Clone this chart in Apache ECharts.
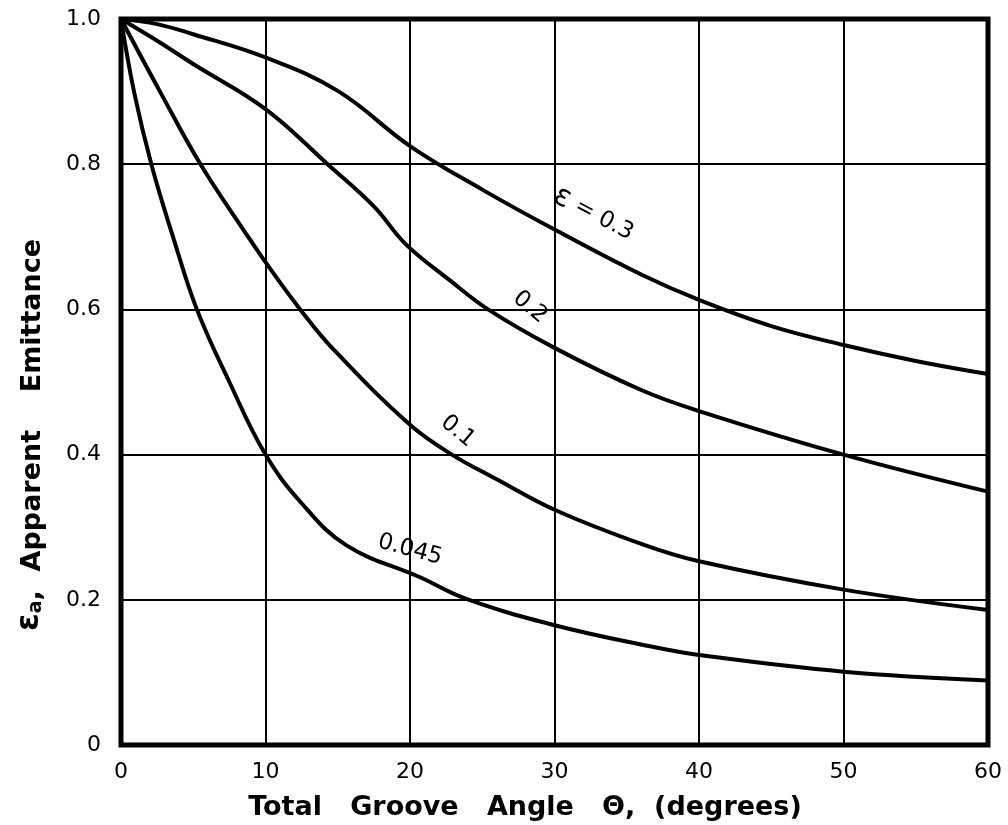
<!DOCTYPE html>
<html>
<head>
<meta charset="utf-8">
<script src="https://cdn.jsdelivr.net/npm/echarts@6/dist/echarts.min.js"></script>
<style>
html,body{margin:0;padding:0;background:#fff;}
#chart{width:1008px;height:825px;}
</style>
</head>
<body>
<div id="chart"></div>
<script>
// Data
const xTicks = [0, 10, 20, 30, 40, 50, 60];
const yTicks = [0, 0.2, 0.4, 0.6, 0.8, 1.0];

const theta03 = [0, 2.5, 5, 10, 15, 20, 25, 30, 36, 40, 45, 50, 55, 60];
const eps03   = [1, 0.993, 0.979, 0.947, 0.901, 0.825, 0.765, 0.71, 0.648, 0.613, 0.577, 0.551, 0.529, 0.511];

const theta02 = [0, 2.5, 5, 10, 14.3, 17.5, 19.7, 22.7, 25.4, 30, 36, 40, 50, 60];
const eps02   = [1, 0.97, 0.938, 0.876, 0.8, 0.742, 0.69, 0.641, 0.6, 0.547, 0.489, 0.46, 0.40, 0.349];

const theta01 = [0, 2.7, 5.5, 8.8, 10, 12.4, 14.7, 20, 22.9, 26, 30, 36, 40, 50, 60];
const eps01   = [1, 0.9, 0.8, 0.7, 0.665, 0.6, 0.545, 0.441, 0.4, 0.366, 0.324, 0.277, 0.253, 0.214, 0.186];

const theta0045 = [0, 0.9, 2.1, 3.6, 5.25, 7.5, 10, 12.5, 15.6, 20.7, 23.8, 30, 36.6, 40, 50, 60];
const eps0045   = [1, 0.9, 0.8, 0.7, 0.6, 0.5, 0.4, 0.333, 0.275, 0.231, 0.202, 0.165, 0.136, 0.124, 0.101, 0.089];

const curveLabels = ['{g|ε} = 0.3', '0.2', '0.1', '0.045'];
const labelAt = [[32.7, 0.731], [28.3, 0.603], [23.3, 0.432], [20.0, 0.269]];
const labelRot = [-28, -40, -40, -15];

const xTitle = 'Total   Groove   Angle   Θ,  (degrees)';
const yTitleRich = '{e|ε}{s|a}{n|,  Apparent    Emittance}';

function zip(xs, ys){ return xs.map((x,i)=>[x, ys[i]]); }

const chart = echarts.init(document.getElementById('chart'), null, {renderer:'canvas'});
const font = 'DejaVu Sans';
const seriesData = [zip(theta03, eps03), zip(theta02, eps02), zip(theta01, eps01), zip(theta0045, eps0045)];

const series = seriesData.map((d, i) => ({
  type: 'line',
  data: d,
  smooth: 0.4,
  showSymbol: false,
  symbol: 'none',
  lineStyle: {color: '#000', width: 4},
  z: 5,
  markPoint: {
    symbol: 'circle',
    symbolSize: 0,
    silent: true,
    data: [{coord: labelAt[i], value: curveLabels[i]}],
    label: {
      show: true,
      formatter: curveLabels[i],
      rotate: labelRot[i],
      color: '#000',
      fontFamily: font,
      fontSize: 23,
      position: 'inside',
      rich: {g: {fontFamily: font, fontSize: 30, color: '#000'}}
    }
  }
}));

chart.setOption({
  animation: false,
  backgroundColor: '#fff',
  grid: {left: 121, right: 20, top: 19, bottom: 80, show: true, borderColor: '#000', borderWidth: 5, backgroundColor: 'transparent'},
  xAxis: {
    type: 'value', min: 0, max: 60, interval: 10,
    axisLine: {show: false},
    axisTick: {show: false},
    axisLabel: {color: '#000', fontFamily: font, fontSize: 22, margin: 16,
      formatter: v => xTicks.includes(v) ? String(v) : ''},
    splitLine: {show: true, lineStyle: {color: '#000', width: 2}}
  },
  yAxis: {
    type: 'value', min: 0, max: 1, interval: 0.2,
    axisLine: {show: false},
    axisTick: {show: false},
    axisLabel: {color: '#000', fontFamily: font, fontSize: 22, margin: 20,
      formatter: v => { const t = yTicks.find(y => Math.abs(y - v) < 1e-9); return t === undefined ? '' : (t === 0 ? '0' : t.toFixed(1)); }},
    splitLine: {show: true, lineStyle: {color: '#000', width: 2}}
  },
  graphic: [
    {
      type: 'text', x: 525, y: 808,
      style: {text: xTitle, font: 'bold 27px "DejaVu Sans"', fill: '#000', align: 'center', verticalAlign: 'middle'}
    },
    {
      type: 'text', x: 30, y: 435, rotation: Math.PI / 2,
      style: {
        text: yTitleRich, fill: '#000', align: 'center', verticalAlign: 'middle',
        rich: {
          e: {font: 'bold 32px "DejaVu Sans"', fill: '#000', verticalAlign: 'bottom'},
          s: {font: 'bold 19px "DejaVu Sans"', fill: '#000', verticalAlign: 'bottom', padding: [12, 0, 0, 0]},
          n: {font: 'bold 27px "DejaVu Sans"', fill: '#000', verticalAlign: 'bottom'}
        }
      }
    }
  ],
  series: series
});
</script>
</body>
</html>
